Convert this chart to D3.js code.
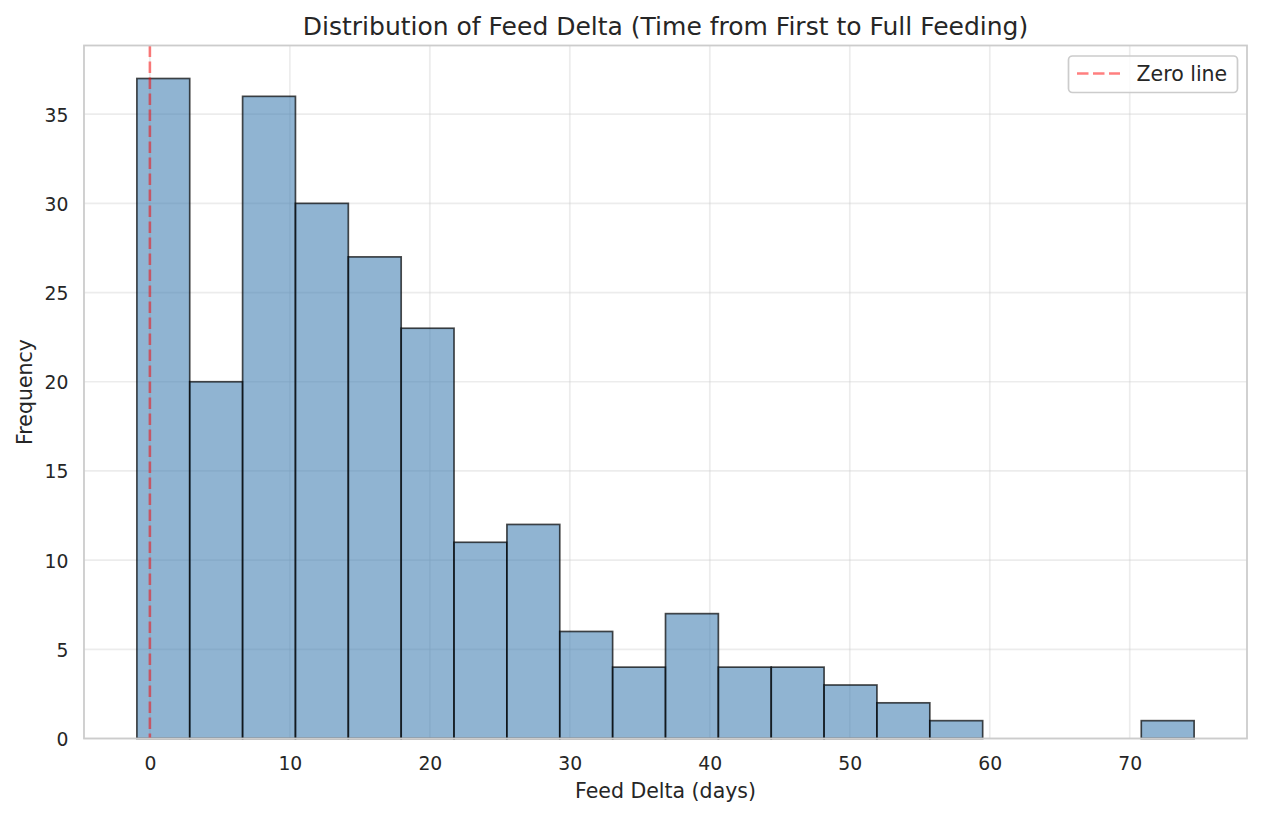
<!DOCTYPE html>
<html>
<head>
<meta charset="utf-8">
<script src="https://cdn.jsdelivr.net/npm/d3@7"></script>
<style>
  html, body { margin: 0; padding: 0; background: #ffffff; }
  svg { display: block; font-family: "DejaVu Sans", sans-serif; }
</style>
</head>
<body>
<svg id="chart" width="1261" height="817"></svg>
<script>
// ---- Data ----
const binCounts = [37, 20, 36, 30, 27, 23, 11, 12, 6, 4, 7, 4, 4, 3, 2, 1, 0, 0, 0, 1];
const dataRange = [-0.93, 74.6];          // min / max of the feed delta values (days)
const xTicks = [0, 10, 20, 30, 40, 50, 60, 70];
const yTicks = [0, 5, 10, 15, 20, 25, 30, 35];
const zeroLineValue = [0];
const legendLabels = ["Zero line"];
const titleText = "Distribution of Feed Delta (Time from First to Full Feeding)";
const xLabelText = "Feed Delta (days)";
const yLabelText = "Frequency";

// ---- Derived bins (equal width, like a histogram with 20 bins) ----
const nBins = binCounts.length;
const binW = (dataRange[1] - dataRange[0]) / nBins;
const bins = binCounts.map((c, i) => ({
  x0: dataRange[0] + i * binW,
  x1: dataRange[0] + (i + 1) * binW,
  count: c
}));

// ---- Layout ----
const plot = { left: 84, right: 1247, top: 45.5, bottom: 738.5 };
const span = dataRange[1] - dataRange[0];
const x = d3.scaleLinear()
  .domain([dataRange[0] - 0.05 * span, dataRange[1] + 0.05 * span])
  .range([plot.left, plot.right]);
const yMax = d3.max(binCounts) * 1.05;
const y = d3.scaleLinear().domain([0, yMax]).range([plot.bottom, plot.top]);

const svg = d3.select("#chart");
const textColor = "#262626";

// Grid
const grid = svg.append("g");
grid.selectAll("line.vx").data(xTicks).join("line")
  .attr("x1", d => x(d)).attr("x2", d => x(d))
  .attr("y1", plot.top).attr("y2", plot.bottom)
  .attr("stroke", "#cccccc").attr("stroke-opacity", 0.38).attr("stroke-width", 1.7);
grid.selectAll("line.hy").data(yTicks).join("line")
  .attr("x1", plot.left).attr("x2", plot.right)
  .attr("y1", d => y(d)).attr("y2", d => y(d))
  .attr("stroke", "#cccccc").attr("stroke-opacity", 0.38).attr("stroke-width", 1.7);

// Bars
svg.append("g").selectAll("rect").data(bins.filter(b => b.count > 0)).join("rect")
  .attr("x", d => x(d.x0))
  .attr("width", d => x(d.x1) - x(d.x0))
  .attr("y", d => y(d.count))
  .attr("height", d => y(0) - y(d.count))
  .attr("fill", "steelblue").attr("fill-opacity", 0.6)
  .attr("stroke", "#000000").attr("stroke-opacity", 0.7).attr("stroke-width", 1.7);

// Zero line
svg.append("g").selectAll("line").data(zeroLineValue).join("line")
  .attr("x1", d => x(d)).attr("x2", d => x(d))
  .attr("y1", plot.top).attr("y2", plot.bottom)
  .attr("stroke", "red").attr("stroke-opacity", 0.5).attr("stroke-width", 2.6)
  .attr("stroke-dasharray", "11.5,4.5");

// Frame
svg.append("rect")
  .attr("x", plot.left).attr("y", plot.top)
  .attr("width", plot.right - plot.left).attr("height", plot.bottom - plot.top)
  .attr("fill", "none").attr("stroke", "#cccccc").attr("stroke-width", 1.8);

// Axes (tick labels only, seaborn whitegrid style)
const xAxis = svg.append("g").attr("transform", `translate(0,${plot.bottom})`)
  .call(d3.axisBottom(x).tickValues(xTicks).tickSize(0).tickPadding(0).tickFormat(d3.format("d")));
xAxis.select(".domain").remove();
xAxis.selectAll("text").attr("dy", null).attr("y", 31.5)
  .attr("font-size", "18.8px").attr("fill", textColor).attr("font-family", "DejaVu Sans");

const yAxis = svg.append("g").attr("transform", `translate(${plot.left},0)`)
  .call(d3.axisLeft(y).tickValues(yTicks).tickSize(0).tickPadding(0).tickFormat(d3.format("d")));
yAxis.select(".domain").remove();
yAxis.selectAll("text").attr("dy", null).attr("x", -15.5).attr("y", 7)
  .attr("font-size", "18.8px").attr("fill", textColor).attr("font-family", "DejaVu Sans");

// Title & labels
svg.append("text").attr("x", (plot.left + plot.right) / 2).attr("y", 34.5)
  .attr("text-anchor", "middle").attr("font-size", "25px").attr("fill", textColor)
  .text(titleText);
svg.append("text").attr("x", (plot.left + plot.right) / 2).attr("y", 798)
  .attr("text-anchor", "middle").attr("font-size", "20.5px").attr("fill", textColor)
  .text(xLabelText);
svg.append("text")
  .attr("transform", `translate(32.3,${(plot.top + plot.bottom) / 2}) rotate(-90)`)
  .attr("text-anchor", "middle").attr("font-size", "20.5px").attr("fill", textColor)
  .text(yLabelText);

// Legend
const lg = svg.append("g");
lg.append("rect").attr("x", 1068.5).attr("y", 56).attr("width", 169).attr("height", 36.5)
  .attr("rx", 4).attr("fill", "#ffffff").attr("fill-opacity", 0.8)
  .attr("stroke", "#cccccc").attr("stroke-width", 1.7);
lg.selectAll("line").data(legendLabels).join("line")
  .attr("x1", 1077).attr("x2", 1120).attr("y1", 73.5).attr("y2", 73.5)
  .attr("stroke", "red").attr("stroke-opacity", 0.5).attr("stroke-width", 2.6)
  .attr("stroke-dasharray", "11.5,4.5");
lg.selectAll("text").data(legendLabels).join("text")
  .attr("x", 1136.5).attr("y", 81).attr("font-size", "20.5px").attr("fill", textColor)
  .text(d => d);
</script>
</body>
</html>
